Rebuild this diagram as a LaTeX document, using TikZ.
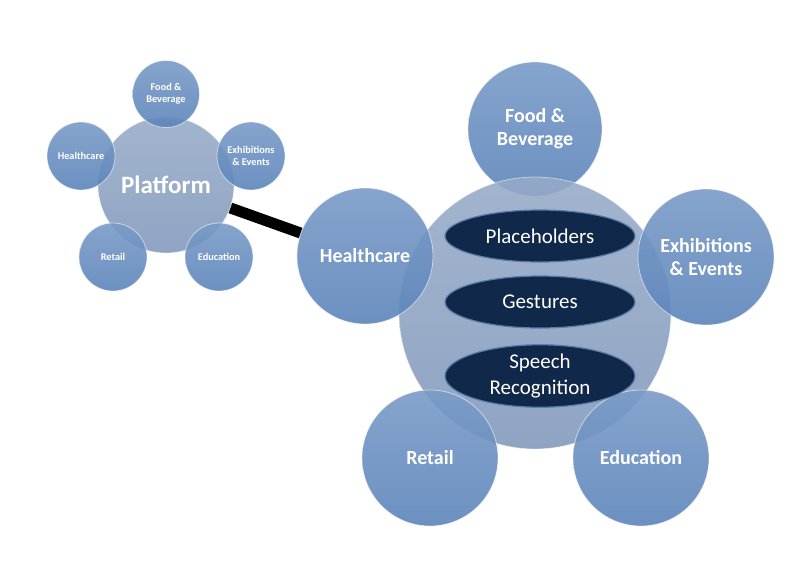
\documentclass[tikz,border=0pt]{standalone}
\usepackage{fontspec}
\setmainfont{Carlito}
\usetikzlibrary{shapes.geometric}
\begin{document}
\begin{tikzpicture}[x=1pt,y=-1pt,
  outer/.style={circle,minimum size=#1,inner sep=0pt,align=center,text=white,
    top color=blue1!82!white,bottom color=blue1,fill opacity=0.9,
    text opacity=1,draw=white,draw opacity=0.55,line width=0.8pt},
  hub/.style={circle,minimum size=#1,inner sep=0pt,align=center,text=white,
    top color=hubc!82!white,bottom color=hubc,fill opacity=0.88,
    text opacity=1,draw=white,draw opacity=0.5,line width=0.8pt},
  bigtxt/.style={font=\bfseries\fontsize{20}{23}\selectfont},
  smalltxt/.style={font=\bfseries\fontsize{10.3}{11.5}\selectfont},
  oval/.style={ellipse,minimum width=190pt,minimum height=52pt,inner sep=0pt,
    align=center,text=white,fill=navy,draw=steel,line width=1.2pt,
    font=\fontsize{21}{26}\selectfont},
  link/.style={line width=11pt,black}
]
\definecolor{blue1}{HTML}{5C85BB}
\definecolor{hubc}{HTML}{8098BB}
\definecolor{navy}{HTML}{10284A}
\definecolor{steel}{HTML}{5A7CA8}
\useasboundingbox[fill=white] (0,0) rectangle (800,566);

% left cluster
\node[hub=136pt,font=\bfseries\fontsize{25}{28}\selectfont] (platform) at (166,185) {Platform};
\node[outer=67pt,smalltxt] (sfood) at (166,94) {Food \&\\Beverage};
\node[outer=68pt,smalltxt] (shealth) at (81,156) {Healthcare};
\node[outer=68pt,smalltxt] (sexh) at (251,156) {Exhibitions\\\& Events};
\node[outer=68pt,smalltxt] (sretail) at (113,257) {Retail};
\node[outer=68pt,smalltxt] (sedu) at (219,257) {Education};

% right cluster
\node[outer=134pt,bigtxt] (food) at (535,129) {Food \&\\Beverage};
\node[hub=272pt] (center) at (535,313) {};
\node[outer=136pt,bigtxt] (health) at (365,256) {Healthcare};
\node[outer=136pt,bigtxt] (exh) at (706,257) {Exhibitions\\\& Events};
\node[outer=136pt,bigtxt] (retail) at (430,458) {Retail};
\node[outer=136pt,bigtxt] (edu) at (641,458) {Education};
\node[oval] (ph) at (540,236) {Placeholders};
\node[oval] (ge) at (540,302) {Gestures};
\node[oval] (sr) at (540,376) {Speech\\Recognition};

% connector
\draw[link] (platform) -- (health);
\end{tikzpicture}
\end{document}
